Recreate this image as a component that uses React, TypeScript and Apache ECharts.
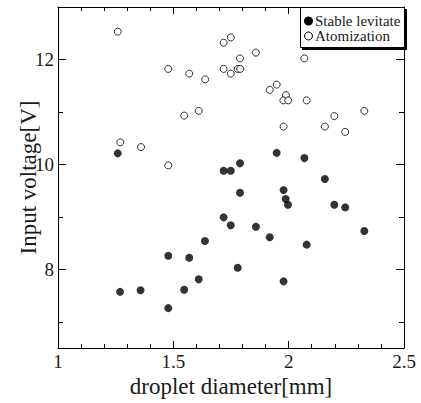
import React, { useEffect, useRef } from "react";
import * as echarts from "echarts";

const stableX = [1.259, 1.269, 1.358, 1.478, 1.478, 1.547, 1.569, 1.61, 1.637, 1.718, 1.749, 1.789, 1.789, 1.718, 1.749, 1.779, 1.858, 1.918, 1.948, 1.978, 1.987, 1.997, 1.978, 2.068, 2.078, 2.157, 2.198, 2.245, 2.328];
const stableY = [10.21, 7.57, 7.6, 8.26, 7.26, 7.61, 8.22, 7.81, 8.54, 9.88, 9.88, 10.02, 9.46, 8.99, 8.84, 8.03, 8.81, 8.61, 10.22, 9.51, 9.34, 9.23, 7.77, 10.12, 8.47, 9.72, 9.23, 9.18, 8.73];

const atomX = [1.259, 1.27, 1.36, 1.478, 1.478, 1.547, 1.569, 1.61, 1.638, 1.718, 1.749, 1.718, 1.749, 1.779, 1.79, 1.789, 1.858, 1.918, 1.948, 1.988, 1.977, 1.998, 2.078, 2.068, 1.978, 2.157, 2.198, 2.245, 2.328];
const atomY = [12.53, 10.42, 10.33, 11.82, 9.98, 10.93, 11.73, 11.02, 11.62, 12.32, 12.42, 11.82, 11.73, 11.82, 11.82, 12.02, 12.13, 11.42, 11.52, 11.32, 11.22, 11.22, 11.22, 12.02, 10.72, 10.72, 10.92, 10.62, 11.02];

const xMajorTicks = [1, 1.5, 2, 2.5];
const xMinorTicks = [1.1, 1.2, 1.3, 1.4, 1.6, 1.7, 1.8, 1.9, 2.1, 2.2, 2.3, 2.4];
const yMajorTicks = [8, 10, 12];
const yMinorTicks = [7, 9, 11];
const seriesNames = ["Stable levitate", "Atomization"];

const FONT = "Liberation Serif";
const INK = "#000";
const LABEL = "#1a1a1a";

export default function App() {
  const ref = useRef<HTMLDivElement>(null);
  useEffect(() => {
    if (!ref.current) return;
    const chart = echarts.init(ref.current, undefined, { renderer: "svg" });
    const lineStyle = { color: INK, width: 1 };
    const baseX = { type: "value" as const, min: 1, max: 2.5, interval: 0.1, splitLine: { show: false } };
    const baseY = { type: "value" as const, min: 6.5, max: 13, splitLine: { show: false } };
    const tick = (vals: number[], len: number) => ({
      show: true,
      inside: true,
      length: len,
      lineStyle,
      customValues: vals,
    });
    chart.setOption({
      animation: false,
      backgroundColor: "#fff",
      textStyle: { fontFamily: FONT },
      grid: { left: 58, right: 17, top: 7, bottom: 54, containLabel: false },
      xAxis: [
        {
          ...baseX,
          position: "bottom",
          name: "droplet diameter[mm]",
          nameLocation: "middle",
          nameGap: 27,
          nameMoveOverlap: false,
          nameTextStyle: { fontFamily: FONT, fontSize: 23, color: LABEL },
          axisLine: { show: true, lineStyle },
          axisTick: tick(xMajorTicks, 7),
          axisLabel: { fontFamily: FONT, fontSize: 19, color: LABEL, margin: 4, customValues: xMajorTicks },
        },
        { ...baseX, position: "bottom", axisLine: { show: false }, axisTick: tick(xMinorTicks, 4), axisLabel: { show: false } },
        { ...baseX, position: "top", axisLine: { show: true, lineStyle }, axisTick: tick(xMajorTicks, 7), axisLabel: { show: false } },
        { ...baseX, position: "top", axisLine: { show: false }, axisTick: tick(xMinorTicks, 4), axisLabel: { show: false } },
      ],
      yAxis: [
        {
          ...baseY,
          position: "left",
          name: "Input voltage[V]",
          nameLocation: "middle",
          nameGap: 18,
          nameMoveOverlap: false,
          nameTextStyle: { fontFamily: FONT, fontSize: 23, color: LABEL },
          axisLine: { show: true, lineStyle },
          axisTick: tick(yMajorTicks, 8),
          axisLabel: { fontFamily: FONT, fontSize: 19, color: LABEL, margin: 4, customValues: yMajorTicks },
        },
        { ...baseY, position: "left", axisLine: { show: false }, axisTick: tick(yMinorTicks, 5), axisLabel: { show: false } },
        { ...baseY, position: "right", axisLine: { show: true, lineStyle }, axisTick: tick(yMajorTicks, 8), axisLabel: { show: false } },
        { ...baseY, position: "right", axisLine: { show: false }, axisTick: tick(yMinorTicks, 5), axisLabel: { show: false } },
      ],
      graphic: [
        { type: "rect", z: 20, shape: { x: 302, y: 9, width: 105, height: 41 }, style: { fill: "#000" } },
        { type: "rect", z: 21, shape: { x: 300.5, y: 7.5, width: 104, height: 40 }, style: { fill: "#fff", stroke: "#000", lineWidth: 1 } },
        { type: "circle", z: 22, shape: { cx: 308.5, cy: 21, r: 4.5 }, style: { fill: "#000" } },
        { type: "circle", z: 22, shape: { cx: 308.5, cy: 36, r: 4 }, style: { fill: "#fff", stroke: "#000", lineWidth: 1 } },
        { type: "text", z: 22, x: 315, y: 21, style: { text: seriesNames[0], font: "15px Liberation Serif", fill: LABEL, verticalAlign: "middle" } },
        { type: "text", z: 22, x: 315, y: 36, style: { text: seriesNames[1], font: "15px Liberation Serif", fill: LABEL, verticalAlign: "middle" } },
      ],
      series: [
        {
          name: seriesNames[0],
          type: "scatter",
          xAxisIndex: 0,
          yAxisIndex: 0,
          symbol: "circle",
          symbolSize: 8,
          itemStyle: { color: "#000", borderColor: "#000", borderWidth: 0 },
          data: stableX.map((x, i) => [x, stableY[i]]),
        },
        {
          name: seriesNames[1],
          type: "scatter",
          xAxisIndex: 0,
          yAxisIndex: 0,
          symbol: "circle",
          symbolSize: 7,
          itemStyle: { color: "#fff", borderColor: "#000", borderWidth: 1 },
          data: atomX.map((x, i) => [x, atomY[i]]),
        },
      ],
    });
    return () => chart.dispose();
  }, []);
  return <div ref={ref} style={{ width: 421, height: 403, position: "absolute", left: 0, top: 0 }} />;
}
